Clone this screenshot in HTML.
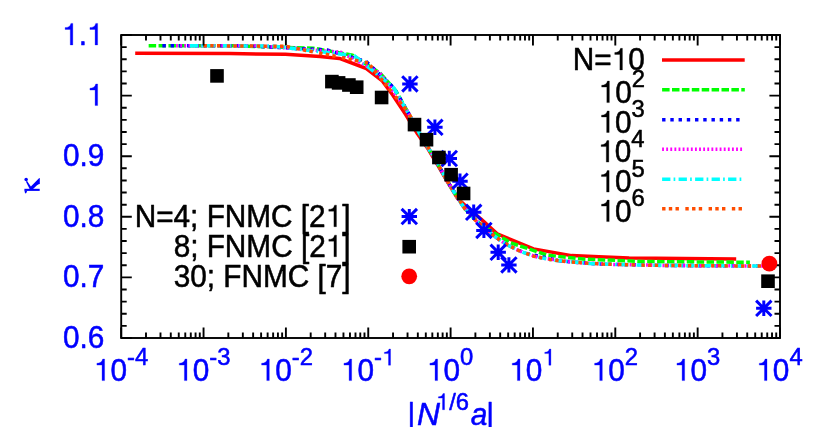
<!DOCTYPE html><html><head><meta charset="utf-8"><title>chart</title><style>html,body{margin:0;padding:0;background:#fff;overflow:hidden}</style></head><body><svg width="830" height="427" viewBox="0 0 830 427" style="display:block;will-change:transform;font-kerning:none;font-family:'Liberation Sans',sans-serif">
<rect width="830" height="427" fill="#fff"/>
<clipPath id="c"><rect x="121.2" y="35.0" width="658.8" height="303.0"/></clipPath>
<g clip-path="url(#c)" fill="none" stroke-linejoin="round">
<path d="M135.20,53.20 L230.00,53.60 L285.40,54.30 L320.00,56.40 L339.40,58.40 L366.40,68.50 L382.30,80.90 L392.70,95.00 L405.50,114.30 L417.30,133.60 L428.30,149.30 L438.30,166.00 L447.60,182.20 L457.30,198.00 L470.00,210.00 L480.80,218.90 L497.20,233.90 L533.50,248.90 L571.50,255.60 L629.10,258.10 L736.20,258.90" stroke="#ff0000" stroke-width="3.5"/>
<path d="M148.65,45.70 L231.00,45.70 L313.35,48.21 L352.64,55.22 L380.29,73.29 L395.70,90.64 L410.20,116.32 L420.49,135.07 L434.99,159.16 L449.49,184.61 L465.29,209.23 L478.05,222.21 L492.55,232.05 L510.82,242.82 L547.64,255.27 L585.19,259.16 L642.75,261.45 L749.89,262.31" stroke="#00ff00" stroke-width="3.5" stroke-dasharray="7.5 2.4"/>
<path d="M162.38,45.70 L244.72,45.70 L327.07,49.96 L366.37,61.67 L394.02,88.08 L409.42,114.89 L423.93,140.79 L434.21,157.86 L448.72,183.27 L463.22,206.43 L479.02,223.42 L491.77,234.43 L506.28,244.35 L524.55,253.00 L561.37,261.13 L598.91,263.96 L656.48,265.36 L763.61,266.05" stroke="#0000ff" stroke-width="3.5" stroke-dasharray="3.4 4.83"/>
<path d="M176.10,45.70 L258.45,45.75 L340.80,52.29 L380.09,73.10 L407.74,111.81 L423.15,139.51 L437.65,163.68 L447.94,181.92 L462.44,205.35 L476.94,221.61 L492.74,235.22 L505.50,243.90 L520.00,251.18 L538.27,257.41 L575.09,262.40 L612.64,264.45 L670.20,265.54 L777.34,266.08" stroke="#ff00ff" stroke-width="3.5" stroke-dasharray="1.85 2.26"/>
<path d="M189.82,45.70 L272.18,45.98 L354.52,55.82 L393.82,87.79 L421.47,136.72 L436.88,162.35 L451.38,187.87 L461.66,204.25 L476.17,220.93 L490.67,233.52 L506.47,244.46 L519.22,250.85 L533.73,256.21 L552.00,259.95 L588.82,263.40 L626.36,264.83 L683.92,265.69 L791.06,266.10" stroke="#00ffff" stroke-width="3.5" stroke-dasharray="8.3 3.2 1.7 3.3"/>
<path d="M203.55,45.70 L285.90,46.33 L368.25,62.90 L407.54,111.44 L435.19,159.50 L450.60,186.53 L465.10,208.98 L475.39,220.24 L489.89,232.87 L504.39,243.25 L520.19,251.26 L532.95,255.97 L547.45,259.24 L565.72,261.58 L602.54,264.10 L640.09,265.10 L697.65,265.79 L804.79,266.10" stroke="#ff4d00" stroke-width="3.5" stroke-dasharray="3.4 3.3 3.4 3.3 3.4 6.45"/>
</g>
<path d="M121.20,338.0v-10.6M121.20,35.0v10.6M145.99,338.0v-5.5M145.99,35.0v5.5M160.49,338.0v-5.5M160.49,35.0v5.5M170.78,338.0v-5.5M170.78,35.0v5.5M178.76,338.0v-5.5M178.76,35.0v5.5M185.28,338.0v-5.5M185.28,35.0v5.5M190.79,338.0v-5.5M190.79,35.0v5.5M195.57,338.0v-5.5M195.57,35.0v5.5M199.78,338.0v-5.5M199.78,35.0v5.5M203.55,338.0v-10.6M203.55,35.0v10.6M228.34,338.0v-5.5M228.34,35.0v5.5M242.84,338.0v-5.5M242.84,35.0v5.5M253.13,338.0v-5.5M253.13,35.0v5.5M261.11,338.0v-5.5M261.11,35.0v5.5M267.63,338.0v-5.5M267.63,35.0v5.5M273.14,338.0v-5.5M273.14,35.0v5.5M277.92,338.0v-5.5M277.92,35.0v5.5M282.13,338.0v-5.5M282.13,35.0v5.5M285.90,338.0v-10.6M285.90,35.0v10.6M310.69,338.0v-5.5M310.69,35.0v5.5M325.19,338.0v-5.5M325.19,35.0v5.5M335.48,338.0v-5.5M335.48,35.0v5.5M343.46,338.0v-5.5M343.46,35.0v5.5M349.98,338.0v-5.5M349.98,35.0v5.5M355.49,338.0v-5.5M355.49,35.0v5.5M360.27,338.0v-5.5M360.27,35.0v5.5M364.48,338.0v-5.5M364.48,35.0v5.5M368.25,338.0v-10.6M368.25,35.0v10.6M393.04,338.0v-5.5M393.04,35.0v5.5M407.54,338.0v-5.5M407.54,35.0v5.5M417.83,338.0v-5.5M417.83,35.0v5.5M425.81,338.0v-5.5M425.81,35.0v5.5M432.33,338.0v-5.5M432.33,35.0v5.5M437.84,338.0v-5.5M437.84,35.0v5.5M442.62,338.0v-5.5M442.62,35.0v5.5M446.83,338.0v-5.5M446.83,35.0v5.5M450.60,338.0v-10.6M450.60,35.0v10.6M475.39,338.0v-5.5M475.39,35.0v5.5M489.89,338.0v-5.5M489.89,35.0v5.5M500.18,338.0v-5.5M500.18,35.0v5.5M508.16,338.0v-5.5M508.16,35.0v5.5M514.68,338.0v-5.5M514.68,35.0v5.5M520.19,338.0v-5.5M520.19,35.0v5.5M524.97,338.0v-5.5M524.97,35.0v5.5M529.18,338.0v-5.5M529.18,35.0v5.5M532.95,338.0v-10.6M532.95,35.0v10.6M557.74,338.0v-5.5M557.74,35.0v5.5M572.24,338.0v-5.5M572.24,35.0v5.5M582.53,338.0v-5.5M582.53,35.0v5.5M590.51,338.0v-5.5M590.51,35.0v5.5M597.03,338.0v-5.5M597.03,35.0v5.5M602.54,338.0v-5.5M602.54,35.0v5.5M607.32,338.0v-5.5M607.32,35.0v5.5M611.53,338.0v-5.5M611.53,35.0v5.5M615.30,338.0v-10.6M615.30,35.0v10.6M640.09,338.0v-5.5M640.09,35.0v5.5M654.59,338.0v-5.5M654.59,35.0v5.5M664.88,338.0v-5.5M664.88,35.0v5.5M672.86,338.0v-5.5M672.86,35.0v5.5M679.38,338.0v-5.5M679.38,35.0v5.5M684.89,338.0v-5.5M684.89,35.0v5.5M689.67,338.0v-5.5M689.67,35.0v5.5M693.88,338.0v-5.5M693.88,35.0v5.5M697.65,338.0v-10.6M697.65,35.0v10.6M722.44,338.0v-5.5M722.44,35.0v5.5M736.94,338.0v-5.5M736.94,35.0v5.5M747.23,338.0v-5.5M747.23,35.0v5.5M755.21,338.0v-5.5M755.21,35.0v5.5M761.73,338.0v-5.5M761.73,35.0v5.5M767.24,338.0v-5.5M767.24,35.0v5.5M772.02,338.0v-5.5M772.02,35.0v5.5M776.23,338.0v-5.5M776.23,35.0v5.5M780.00,338.0v-10.6M780.00,35.0v10.6M121.2,338.00h10.6M780.0,338.00h-10.6M121.2,325.88h5.5M780.0,325.88h-5.5M121.2,313.76h5.5M780.0,313.76h-5.5M121.2,301.64h5.5M780.0,301.64h-5.5M121.2,289.52h5.5M780.0,289.52h-5.5M121.2,277.40h10.6M780.0,277.40h-10.6M121.2,265.28h5.5M780.0,265.28h-5.5M121.2,253.16h5.5M780.0,253.16h-5.5M121.2,241.04h5.5M780.0,241.04h-5.5M121.2,228.92h5.5M780.0,228.92h-5.5M121.2,216.80h10.6M780.0,216.80h-10.6M121.2,204.68h5.5M780.0,204.68h-5.5M121.2,192.56h5.5M780.0,192.56h-5.5M121.2,180.44h5.5M780.0,180.44h-5.5M121.2,168.32h5.5M780.0,168.32h-5.5M121.2,156.20h10.6M780.0,156.20h-10.6M121.2,144.08h5.5M780.0,144.08h-5.5M121.2,131.96h5.5M780.0,131.96h-5.5M121.2,119.84h5.5M780.0,119.84h-5.5M121.2,107.72h5.5M780.0,107.72h-5.5M121.2,95.60h10.6M780.0,95.60h-10.6M121.2,83.48h5.5M780.0,83.48h-5.5M121.2,71.36h5.5M780.0,71.36h-5.5M121.2,59.24h5.5M780.0,59.24h-5.5M121.2,47.12h5.5M780.0,47.12h-5.5M121.2,35.00h10.6M780.0,35.00h-10.6" stroke="#000" stroke-width="1.9" fill="none"/>
<rect x="121.2" y="35.0" width="658.8" height="303.0" fill="none" stroke="#000" stroke-width="1.9"/>
<path d="M402.20,83.90H417.60M409.90,76.20V91.60M402.20,76.20L417.60,91.60M402.20,91.60L417.60,76.20" stroke="#0000ff" stroke-width="3.0" fill="none"/>
<path d="M427.20,127.30H442.60M434.90,119.60V135.00M427.20,119.60L442.60,135.00M427.20,135.00L442.60,119.60" stroke="#0000ff" stroke-width="3.0" fill="none"/>
<path d="M441.60,158.50H457.00M449.30,150.80V166.20M441.60,150.80L457.00,166.20M441.60,166.20L457.00,150.80" stroke="#0000ff" stroke-width="3.0" fill="none"/>
<path d="M452.30,181.20H467.70M460.00,173.50V188.90M452.30,173.50L467.70,188.90M452.30,188.90L467.70,173.50" stroke="#0000ff" stroke-width="3.0" fill="none"/>
<path d="M466.00,212.30H481.40M473.70,204.60V220.00M466.00,204.60L481.40,220.00M466.00,220.00L481.40,204.60" stroke="#0000ff" stroke-width="3.0" fill="none"/>
<path d="M476.20,230.40H491.60M483.90,222.70V238.10M476.20,222.70L491.60,238.10M476.20,238.10L491.60,222.70" stroke="#0000ff" stroke-width="3.0" fill="none"/>
<path d="M490.50,252.30H505.90M498.20,244.60V260.00M490.50,244.60L505.90,260.00M490.50,260.00L505.90,244.60" stroke="#0000ff" stroke-width="3.0" fill="none"/>
<path d="M501.20,264.90H516.60M508.90,257.20V272.60M501.20,257.20L516.60,272.60M501.20,272.60L516.60,257.20" stroke="#0000ff" stroke-width="3.0" fill="none"/>
<path d="M756.10,308.30H771.50M763.80,300.60V316.00M756.10,300.60L771.50,316.00M756.10,316.00L771.50,300.60" stroke="#0000ff" stroke-width="3.0" fill="none"/>
<rect x="210.20" y="69.10" width="13.6" height="13.6" fill="#000"/>
<rect x="325.10" y="74.80" width="13.6" height="13.6" fill="#000"/>
<rect x="331.80" y="76.10" width="13.6" height="13.6" fill="#000"/>
<rect x="342.10" y="78.20" width="13.6" height="13.6" fill="#000"/>
<rect x="349.90" y="80.40" width="13.6" height="13.6" fill="#000"/>
<rect x="374.80" y="90.70" width="13.6" height="13.6" fill="#000"/>
<rect x="407.70" y="117.80" width="13.6" height="13.6" fill="#000"/>
<rect x="419.70" y="132.90" width="13.6" height="13.6" fill="#000"/>
<rect x="432.10" y="150.70" width="13.6" height="13.6" fill="#000"/>
<rect x="444.30" y="167.90" width="13.6" height="13.6" fill="#000"/>
<rect x="456.80" y="186.70" width="13.6" height="13.6" fill="#000"/>
<rect x="761.20" y="274.40" width="13.6" height="13.6" fill="#000"/>
<circle cx="769.40" cy="263.60" r="7.9" fill="#ff0000"/>
<g fill="#0000ff" stroke="#0000ff" stroke-width="0.55" stroke-linejoin="round"><path d="M72.81,44.95L70.28,44.95L70.28,29.46L65.13,29.46L65.13,27.59C68.07,27.53 70.22,26.46 70.93,23.39L72.81,23.39Z" stroke-width="0.3"/><text transform="translate(78.68,44.95) scale(0.936,1)" font-size="31.8">.</text><path d="M97.63,44.95L95.10,44.95L95.10,29.46L89.95,29.46L89.95,27.59C92.90,27.53 95.04,26.46 95.76,23.39L97.63,23.39Z" stroke-width="0.3"/></g>
<g fill="#0000ff" stroke="#0000ff" stroke-width="0.55" stroke-linejoin="round"><path d="M97.63,105.55L95.10,105.55L95.10,90.06L89.95,90.06L89.95,88.19C92.90,88.13 95.04,87.06 95.76,83.99L97.63,83.99Z" stroke-width="0.3"/></g>
<g fill="#0000ff" stroke="#0000ff" stroke-width="0.55" stroke-linejoin="round"><text transform="translate(63.02,166.15) scale(0.936,1)" font-size="31.8">0.9</text></g>
<g fill="#0000ff" stroke="#0000ff" stroke-width="0.55" stroke-linejoin="round"><text transform="translate(63.02,226.75) scale(0.936,1)" font-size="31.8">0.8</text></g>
<g fill="#0000ff" stroke="#0000ff" stroke-width="0.55" stroke-linejoin="round"><text transform="translate(63.02,287.35) scale(0.936,1)" font-size="31.8">0.7</text></g>
<g fill="#0000ff" stroke="#0000ff" stroke-width="0.55" stroke-linejoin="round"><text transform="translate(63.02,347.95) scale(0.936,1)" font-size="31.8">0.6</text></g>
<g fill="#0000ff" stroke="#0000ff" stroke-width="0.55" stroke-linejoin="round"><path d="M104.59,380.60L102.06,380.60L102.06,365.11L96.91,365.11L96.91,363.24C99.85,363.18 102.00,362.11 102.71,359.04L104.59,359.04Z" stroke-width="0.3"/><text transform="translate(110.45,380.60) scale(0.936,1)" font-size="31.8">0</text><text transform="translate(127.01,365.20) scale(1.0,1)" font-size="23.8">-4</text></g>
<g fill="#0000ff" stroke="#0000ff" stroke-width="0.55" stroke-linejoin="round"><path d="M186.94,380.60L184.41,380.60L184.41,365.11L179.26,365.11L179.26,363.24C182.20,363.18 184.35,362.11 185.06,359.04L186.94,359.04Z" stroke-width="0.3"/><text transform="translate(192.80,380.60) scale(0.936,1)" font-size="31.8">0</text><text transform="translate(209.36,365.20) scale(1.0,1)" font-size="23.8">-3</text></g>
<g fill="#0000ff" stroke="#0000ff" stroke-width="0.55" stroke-linejoin="round"><path d="M269.29,380.60L266.76,380.60L266.76,365.11L261.61,365.11L261.61,363.24C264.55,363.18 266.70,362.11 267.41,359.04L269.29,359.04Z" stroke-width="0.3"/><text transform="translate(275.15,380.60) scale(0.936,1)" font-size="31.8">0</text><text transform="translate(291.71,365.20) scale(1.0,1)" font-size="23.8">-2</text></g>
<g fill="#0000ff" stroke="#0000ff" stroke-width="0.55" stroke-linejoin="round"><path d="M351.64,380.60L349.11,380.60L349.11,365.11L343.96,365.11L343.96,363.24C346.90,363.18 349.05,362.11 349.76,359.04L351.64,359.04Z" stroke-width="0.3"/><text transform="translate(357.50,380.60) scale(0.936,1)" font-size="31.8">0</text><text transform="translate(374.06,365.20) scale(1.0,1)" font-size="23.8">-</text><path d="M390.53,365.20L388.51,365.20L388.51,353.61L384.39,353.61L384.39,352.21C386.74,352.16 388.46,351.36 389.03,349.06L390.53,349.06Z" stroke-width="0.3"/></g>
<g fill="#0000ff" stroke="#0000ff" stroke-width="0.55" stroke-linejoin="round"><path d="M437.59,380.60L435.06,380.60L435.06,365.11L429.91,365.11L429.91,363.24C432.85,363.18 435.00,362.11 435.71,359.04L437.59,359.04Z" stroke-width="0.3"/><text transform="translate(443.45,380.60) scale(0.936,1)" font-size="31.8">0</text><text transform="translate(460.01,365.20) scale(1.0,1)" font-size="23.8">0</text></g>
<g fill="#0000ff" stroke="#0000ff" stroke-width="0.55" stroke-linejoin="round"><path d="M519.94,380.60L517.41,380.60L517.41,365.11L512.26,365.11L512.26,363.24C515.20,363.18 517.35,362.11 518.06,359.04L519.94,359.04Z" stroke-width="0.3"/><text transform="translate(525.80,380.60) scale(0.936,1)" font-size="31.8">0</text><path d="M550.90,365.20L548.88,365.20L548.88,353.61L544.76,353.61L544.76,352.21C547.12,352.16 548.83,351.36 549.40,349.06L550.90,349.06Z" stroke-width="0.3"/></g>
<g fill="#0000ff" stroke="#0000ff" stroke-width="0.55" stroke-linejoin="round"><path d="M602.29,380.60L599.76,380.60L599.76,365.11L594.61,365.11L594.61,363.24C597.55,363.18 599.70,362.11 600.41,359.04L602.29,359.04Z" stroke-width="0.3"/><text transform="translate(608.15,380.60) scale(0.936,1)" font-size="31.8">0</text><text transform="translate(624.71,365.20) scale(1.0,1)" font-size="23.8">2</text></g>
<g fill="#0000ff" stroke="#0000ff" stroke-width="0.55" stroke-linejoin="round"><path d="M684.64,380.60L682.11,380.60L682.11,365.11L676.96,365.11L676.96,363.24C679.90,363.18 682.05,362.11 682.76,359.04L684.64,359.04Z" stroke-width="0.3"/><text transform="translate(690.50,380.60) scale(0.936,1)" font-size="31.8">0</text><text transform="translate(707.06,365.20) scale(1.0,1)" font-size="23.8">3</text></g>
<g fill="#0000ff" stroke="#0000ff" stroke-width="0.55" stroke-linejoin="round"><path d="M766.99,380.60L764.46,380.60L764.46,365.11L759.31,365.11L759.31,363.24C762.25,363.18 764.40,362.11 765.11,359.04L766.99,359.04Z" stroke-width="0.3"/><text transform="translate(772.85,380.60) scale(0.936,1)" font-size="31.8">0</text><text transform="translate(789.41,365.20) scale(1.0,1)" font-size="23.8">4</text></g>
<g fill="#0000ff" stroke="#0000ff" stroke-width="0.55" stroke-linejoin="round"><text transform="translate(407.62,424.80) scale(0.936,1)" font-size="31.8">|</text></g>
<g fill="#0000ff" stroke="#0000ff" stroke-width="0.55" stroke-linejoin="round"><text transform="translate(416.95,424.80) scale(1.0,1)" font-size="31.8" font-style="italic">N</text></g>
<g fill="#0000ff" stroke="#0000ff" stroke-width="0.55" stroke-linejoin="round"><path d="M444.54,409.70L442.52,409.70L442.52,398.11L438.40,398.11L438.40,396.71C440.76,396.66 442.47,395.86 443.04,393.56L444.54,393.56Z" stroke-width="0.3"/><text transform="translate(449.23,409.70) scale(1.0,1)" font-size="23.8">/6</text></g>
<g fill="#0000ff" stroke="#0000ff" stroke-width="0.55" stroke-linejoin="round"><text transform="translate(470.63,424.80) scale(0.936,1)" font-size="31.8" font-style="italic">a</text></g>
<g fill="#0000ff" stroke="#0000ff" stroke-width="0.55" stroke-linejoin="round"><text transform="translate(486.22,424.80) scale(0.936,1)" font-size="31.8">|</text></g>
<g fill="#0000ff"><rect x="24.4" y="188.8" width="15.3" height="2.1"/><path d="M24.5,190.8L27.2,190.8L26.3,193.0Q25.6,193.9 25.0,193.0Z"/><circle cx="26.15" cy="179.6" r="1.75"/><path d="M25.9,181.5L27.1,181.0L31.9,188.0L32.2,188.9L29.6,188.9Z"/><path d="M30.4,186.9L39.0,178.3L39.8,178.0L39.8,184.0L38.6,184.3L37.0,185.3L33.0,188.9L31.0,188.9Z"/></g>
<g fill="#000" stroke="#000" stroke-width="0.55" stroke-linejoin="round"><text transform="translate(572.86,69.90) scale(0.936,1)" font-size="31.8">N=</text><path d="M622.42,69.90L619.89,69.90L619.89,54.41L614.74,54.41L614.74,52.54C617.69,52.48 619.83,51.41 620.55,48.34L622.42,48.34Z" stroke-width="0.3"/><text transform="translate(628.29,69.90) scale(0.936,1)" font-size="31.8">0</text></g>
<path d="M662,59.9H744.7" stroke="#ff0000" stroke-width="3.5"/>
<g fill="#000" stroke="#000" stroke-width="0.55" stroke-linejoin="round"><path d="M609.36,102.60L606.83,102.60L606.83,87.11L601.68,87.11L601.68,85.24C604.63,85.18 606.77,84.11 607.48,81.04L609.36,81.04Z" stroke-width="0.3"/><text transform="translate(615.23,102.60) scale(0.936,1)" font-size="31.8">0</text><text transform="translate(631.78,87.20) scale(1.0,1)" font-size="23.8">2</text></g>
<path d="M662.1,89.8H744.8" stroke="#00ff00" stroke-width="3.5" stroke-dasharray="7.5 2.4"/>
<g fill="#000" stroke="#000" stroke-width="0.55" stroke-linejoin="round"><path d="M609.18,132.50L606.65,132.50L606.65,117.01L601.50,117.01L601.50,115.14C604.45,115.08 606.59,114.01 607.30,110.94L609.18,110.94Z" stroke-width="0.3"/><text transform="translate(615.05,132.50) scale(0.936,1)" font-size="31.8">0</text><text transform="translate(631.60,117.10) scale(1.0,1)" font-size="23.8">3</text></g>
<path d="M662.1,119.7H740.6" stroke="#0000ff" stroke-width="3.5" stroke-dasharray="3.4 4.83"/>
<g fill="#000" stroke="#000" stroke-width="0.55" stroke-linejoin="round"><path d="M608.82,162.10L606.29,162.10L606.29,146.61L601.14,146.61L601.14,144.74C604.09,144.68 606.23,143.61 606.95,140.54L608.82,140.54Z" stroke-width="0.3"/><text transform="translate(614.69,162.10) scale(0.936,1)" font-size="31.8">0</text><text transform="translate(631.25,146.70) scale(1.0,1)" font-size="23.8">4</text></g>
<path d="M662.1,149.3H742.9" stroke="#ff00ff" stroke-width="3.5" stroke-dasharray="1.85 2.26"/>
<g fill="#000" stroke="#000" stroke-width="0.55" stroke-linejoin="round"><path d="M609.12,192.10L606.59,192.10L606.59,176.61L601.44,176.61L601.44,174.74C604.39,174.68 606.53,173.61 607.24,170.54L609.12,170.54Z" stroke-width="0.3"/><text transform="translate(614.99,192.10) scale(0.936,1)" font-size="31.8">0</text><text transform="translate(631.54,176.70) scale(1.0,1)" font-size="23.8">5</text></g>
<path d="M662.1,179.3H742.0" stroke="#00ffff" stroke-width="3.5" stroke-dasharray="8.3 3.2 1.7 3.3"/>
<g fill="#000" stroke="#000" stroke-width="0.55" stroke-linejoin="round"><path d="M609.18,221.60L606.65,221.60L606.65,206.11L601.50,206.11L601.50,204.24C604.45,204.18 606.59,203.11 607.30,200.04L609.18,200.04Z" stroke-width="0.3"/><text transform="translate(615.05,221.60) scale(0.936,1)" font-size="31.8">0</text><text transform="translate(631.60,206.20) scale(1.0,1)" font-size="23.8">6</text></g>
<path d="M662.1,208.8H742.3" stroke="#ff4d00" stroke-width="3.5" stroke-dasharray="3.4 3.3 3.4 3.3 3.4 6.45"/>
<g fill="#000" stroke="#000" stroke-width="0.55" stroke-linejoin="round"><text transform="translate(134.71,226.70) scale(0.936,1)" font-size="31.8">N=4; FNMC [2</text><path d="M336.44,226.70L333.91,226.70L333.91,211.21L328.76,211.21L328.76,209.34C331.71,209.28 333.85,208.21 334.57,205.14L336.44,205.14Z" stroke-width="0.3"/><text transform="translate(342.31,226.70) scale(0.936,1)" font-size="31.8">]</text></g>
<g fill="#000" stroke="#000" stroke-width="0.55" stroke-linejoin="round"><text transform="translate(173.63,256.70) scale(0.936,1)" font-size="31.8">8; FNMC [2</text><path d="M336.48,256.70L333.95,256.70L333.95,241.21L328.80,241.21L328.80,239.34C331.75,239.28 333.89,238.21 334.61,235.14L336.48,235.14Z" stroke-width="0.3"/><text transform="translate(342.35,256.70) scale(0.936,1)" font-size="31.8">]</text></g>
<g fill="#000" stroke="#000" stroke-width="0.55" stroke-linejoin="round"><text transform="translate(173.63,286.70) scale(0.936,1)" font-size="31.8">30; FNMC [7]</text></g>
<path d="M401.60,216.60H417.00M409.30,208.90V224.30M401.60,208.90L417.00,224.30M401.60,224.30L417.00,208.90" stroke="#0000ff" stroke-width="3.0" fill="none"/>
<rect x="402.40" y="239.90" width="13.6" height="13.6" fill="#000"/>
<circle cx="409.20" cy="276.30" r="7.9" fill="#ff0000"/>
</svg></body></html>
